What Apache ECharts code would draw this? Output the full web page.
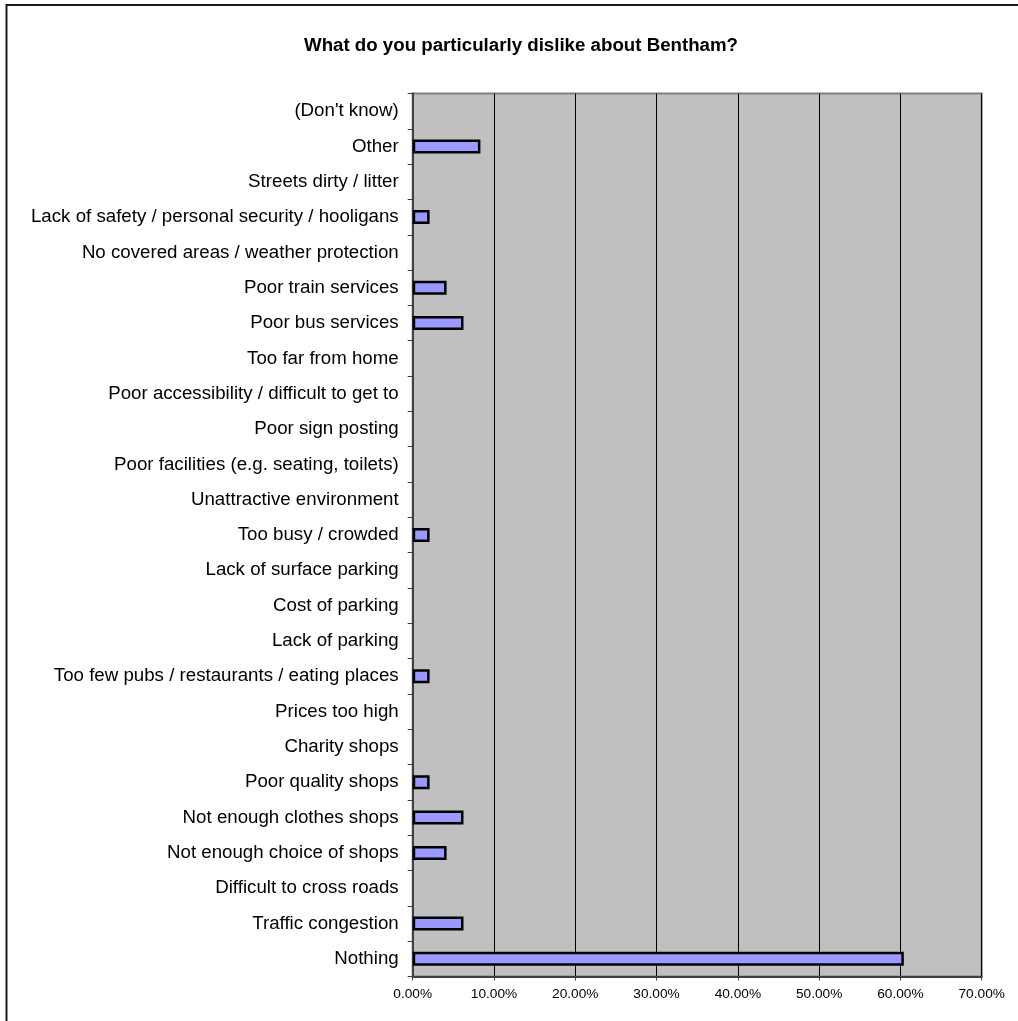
<!DOCTYPE html>
<html>
<head>
<meta charset="utf-8">
<script src="https://cdn.jsdelivr.net/npm/echarts@6/dist/echarts.min.js"></script>
<style>
html,body{margin:0;padding:0;background:#fff;}
#c{width:1018px;height:1021px;}
</style>
</head>
<body>
<div id="c"></div>
<script>
// Categories listed bottom to top
const categories = [
  "Nothing",
  "Traffic congestion",
  "Difficult to cross roads",
  "Not enough choice of shops",
  "Not enough clothes shops",
  "Poor quality shops",
  "Charity shops",
  "Prices too high",
  "Too few pubs / restaurants / eating places",
  "Lack of parking",
  "Cost of parking",
  "Lack of surface parking",
  "Too busy / crowded",
  "Unattractive environment",
  "Poor facilities (e.g. seating, toilets)",
  "Poor sign posting",
  "Poor accessibility / difficult to get to",
  "Too far from home",
  "Poor bus services",
  "Poor train services",
  "No covered areas / weather protection",
  "Lack of safety / personal security / hooligans",
  "Streets dirty / litter",
  "Other",
  "(Don't know)"
];
const percentValues = [
  60.42, 6.25, 0, 4.17, 6.25, 2.08, 0, 0, 2.08, 0, 0, 0, 2.08,
  0, 0, 0, 0, 0, 6.25, 4.17, 0, 2.08, 0, 8.33, 0
];
const xTickValues = [0, 10, 20, 30, 40, 50, 60, 70];

const FONT = "'Liberation Sans', Arial, sans-serif";
const chart = echarts.init(document.getElementById('c'), null, {renderer: 'canvas'});
chart.setOption({
  animation: false,
  backgroundColor: '#ffffff',
  title: {
    text: 'What do you particularly dislike about Bentham?',
    left: 516,
    textAlign: 'center',
    top: 31,
    textStyle: {fontFamily: FONT, fontSize: 18.7, fontWeight: 'bold', color: '#000'}
  },
  graphic: [{
    type: 'rect',
    shape: {x: 6.5, y: 5, width: 1030, height: 1040},
    style: {fill: 'none', stroke: '#1a1a1a', lineWidth: 2},
    silent: true
  }],
  grid: {
    left: 412.7, right: 36.3, top: 93.5, bottom: 44.5,
    show: true, backgroundColor: '#C0C0C0', borderColor: '#808080', borderWidth: 2
  },
  xAxis: {
    type: 'value',
    min: xTickValues[0],
    max: xTickValues[xTickValues.length - 1],
    interval: 10,
    axisLine: {show: true, lineStyle: {color: '#404040', width: 2}},
    axisTick: {show: true, length: 4, lineStyle: {color: '#404040', width: 1}},
    splitLine: {show: true, lineStyle: {color: '#000', width: 1}},
    axisLabel: {
      margin: 11,
      fontFamily: FONT, fontSize: 13.7, color: '#000',
      formatter: v => v.toFixed(2) + '%'
    }
  },
  yAxis: {
    type: 'category',
    data: categories,
    axisLine: {show: true, lineStyle: {color: '#404040', width: 2}},
    axisTick: {show: true, length: 5, interval: 0, lineStyle: {color: '#404040', width: 1}},
    splitLine: {show: false},
    axisLabel: {
      interval: 0, margin: 14,
      fontFamily: FONT, fontSize: 18.7, color: '#000'
    }
  },
  series: [{
    type: 'bar',
    data: percentValues.map(v => v === 0 ? '-' : v),
    barWidth: 14,
    itemStyle: {color: '#9999FF', borderColor: '#000', borderWidth: 2.5}
  }]
});
</script>
</body>
</html>
